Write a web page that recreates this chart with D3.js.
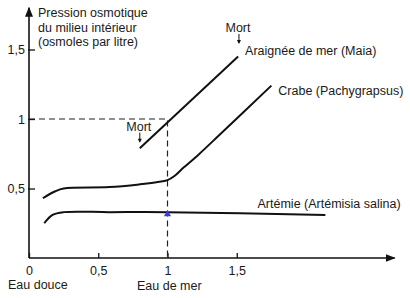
<!DOCTYPE html>
<html>
<head>
<meta charset="utf-8">
<script src="https://cdn.jsdelivr.net/npm/d3@7"></script>
<style>
  body { margin: 0; background: #fff; }
  text { font-family: "Liberation Sans", Arial, sans-serif; fill: #1a1a1a; }
  .axis path, .axis line { stroke: #111; }
</style>
</head>
<body>
<div id="chart"></div>
<script>
// valeurs (salinité du milieu extérieur, pression osmotique interne)
var maia = [[0.80, 0.79], [1.51, 1.45]];
var crabe = [[0.10, 0.43], [0.19, 0.48], [0.25, 0.50], [0.58, 0.51], [0.80, 0.53], [0.92, 0.545],
             [1.0, 0.56], [1.05, 0.59], [1.11, 0.645], [1.22, 0.74], [1.38, 0.89], [1.75, 1.24]];
var artemie = [[0.11, 0.25], [0.17, 0.31], [0.25, 0.33], [0.58, 0.33], [1.0, 0.33], [2.14, 0.31]];
var yTicks = [0.5, 1, 1.5];
var xTicks = [0, 0.5, 1, 1.5];
var yTitle = ["Pression osmotique", "du milieu intérieur", "(osmoles par litre)"];
var labels = [
  {text: "Araignée de mer (Maia)", x: 1.56, y: 1.46},
  {text: "Crabe (Pachygrapsus)", x: 1.80, y: 1.17},
  {text: "Artémie (Artémisia salina)", x: 1.65, y: 0.36}
];
var morts = [{x: 1.516, y: 1.54}, {x: 0.80, y: 0.83}];

var width = 410, height = 298;
var x = d3.scaleLinear().domain([0, 1]).range([29, 167.5]);
var y = d3.scaleLinear().domain([0, 1]).range([258, 119]);
var fr = function(d) { return String(d).replace(".", ","); };

var svg = d3.select("#chart").append("svg")
    .attr("width", width)
    .attr("height", height);

svg.append("defs").append("marker")
    .attr("id", "head")
    .attr("viewBox", "0 0 10 10")
    .attr("refX", 9).attr("refY", 5)
    .attr("markerWidth", 10).attr("markerHeight", 10)
    .attr("markerUnits", "userSpaceOnUse")
    .attr("orient", "auto")
  .append("path")
    .attr("d", "M0,1L10,5L0,9Z")
    .attr("fill", "#111");

// axe vertical
var yAxis = svg.append("g").attr("class", "axis")
    .attr("transform", "translate(" + x(0) + ",0)")
    .call(d3.axisLeft(y).tickValues(yTicks).tickSize(-6).tickPadding(4).tickFormat(fr));
yAxis.select(".domain").remove();
yAxis.selectAll("line").attr("stroke-width", 1.3).attr("x1", -1);
yAxis.selectAll("text").attr("font-size", "12.5px");

// axe horizontal
var xAxis = svg.append("g").attr("class", "axis")
    .attr("transform", "translate(0," + y(0) + ")")
    .call(d3.axisBottom(x).tickValues(xTicks).tickSize(-5).tickPadding(8).tickFormat(fr));
xAxis.select(".domain").remove();
xAxis.selectAll("line").attr("stroke-width", 1.3)
    .attr("stroke", function(d) { return (d == 0 || d == 1) ? "none" : "#111"; });
xAxis.selectAll("text").attr("font-size", "12.5px");

svg.append("line")
    .attr("x1", x(0)).attr("y1", y(0)).attr("x2", x(2.64)).attr("y2", y(0))
    .attr("stroke", "#111").attr("stroke-width", 1.6).attr("marker-end", "url(#head)");
svg.append("line")
    .attr("x1", x(0)).attr("y1", y(0)).attr("x2", x(0)).attr("y2", y(1.8))
    .attr("stroke", "#111").attr("stroke-width", 1.6).attr("marker-end", "url(#head)");

// repères eau de mer
svg.append("path")
    .attr("d", "M" + x(0) + "," + y(1) + "H" + x(1) + "V" + y(0))
    .attr("fill", "none").attr("stroke", "#222").attr("stroke-width", 1.2)
    .attr("stroke-dasharray", "6,4");

var line = d3.line()
    .x(function(d) { return x(d[0]); })
    .y(function(d) { return y(d[1]); })
    .curve(d3.curveCatmullRom.alpha(0.5));

svg.selectAll(".courbe")
    .data([maia, crabe, artemie])
  .enter().append("path")
    .attr("class", "courbe")
    .attr("d", line)
    .attr("fill", "none")
    .attr("stroke", "#111")
    .attr("stroke-width", 2);

// petite tache bleue du document
svg.append("path")
    .attr("d", d3.symbol().type(d3.symbolTriangle).size(22))
    .attr("transform", "translate(" + x(1) + "," + (y(0.33) + 2) + ")")
    .attr("fill", "#3a3ad8");

svg.selectAll(".lab")
    .data(labels)
  .enter().append("text")
    .attr("class", "lab")
    .attr("x", function(d) { return x(d.x); })
    .attr("y", function(d) { return y(d.y); })
    .attr("font-size", "12.5px")
    .text(function(d) { return d.text; });

var mort = svg.selectAll(".mort")
    .data(morts)
  .enter().append("g")
    .attr("class", "mort")
    .attr("transform", function(d) { return "translate(" + x(d.x) + "," + y(d.y) + ")"; });
mort.append("text")
    .attr("x", -1).attr("y", -12)
    .attr("text-anchor", "middle")
    .attr("font-size", "12.5px")
    .text("Mort");
mort.append("line")
    .attr("x1", 0).attr("y1", -10).attr("x2", 0).attr("y2", -1)
    .attr("stroke", "#111").attr("stroke-width", 1);
mort.append("path")
    .attr("d", "M-2,-4L0,0L2,-4Z")
    .attr("fill", "#111");

svg.append("text")
    .attr("x", 38).attr("y", 17)
    .attr("font-size", "12.5px")
  .selectAll("tspan")
    .data(yTitle)
  .enter().append("tspan")
    .attr("x", 38)
    .attr("dy", function(d, i) { return i ? 14.5 : 0; })
    .text(function(d) { return d; });

svg.append("text").attr("x", 8).attr("y", 289).attr("font-size", "12.5px").text("Eau douce");
svg.append("text").attr("x", 137).attr("y", 290).attr("font-size", "12.5px").text("Eau de mer");
</script>
</body>
</html>
